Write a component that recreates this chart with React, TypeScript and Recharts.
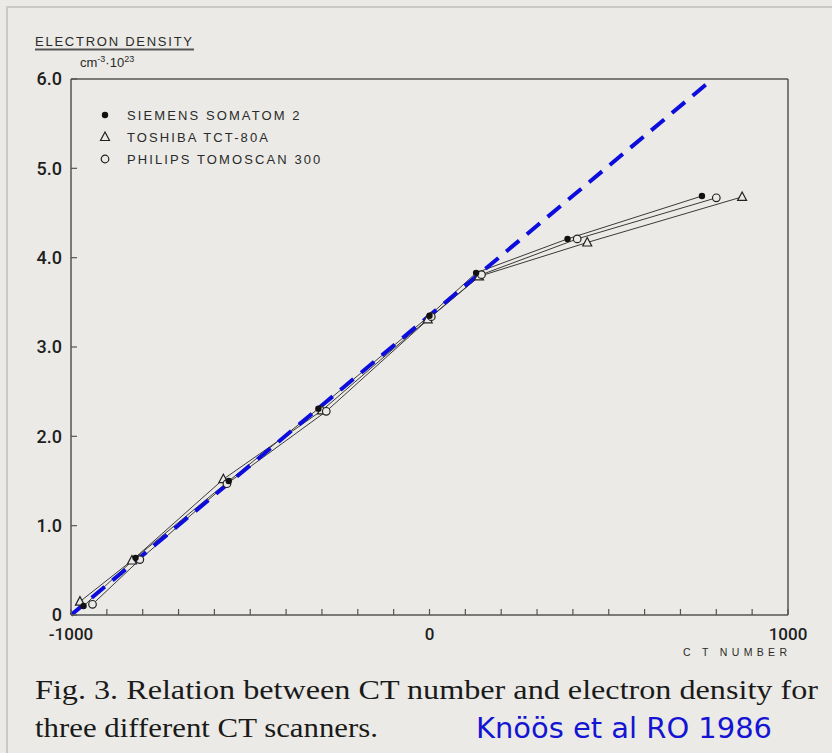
import { Legend, Line, LineChart, XAxis, YAxis } from "recharts";

const X_TICKS = [-1000, -900, -800, -700, -600, -500, -400, -300, -200, -100, 0, 100, 200, 300, 400, 500, 600, 700, 800, 900, 1000];
const X_LABELS: Record<number, string> = { [-1000]: "-1000", 0: "0", 1000: "1000" };
const Y_TICKS = [0, 1, 2, 3, 4, 5, 6];
const Y_LABELS = ["0", "1.0", "2.0", "3.0", "4.0", "5.0", "6.0"];

// points (CT number, electron density)
const siemens = [
  { x: -965, y: 0.1 },
  { x: -820, y: 0.64 },
  { x: -560, y: 1.5 },
  { x: -310, y: 2.31 },
  { x: 0, y: 3.35 },
  { x: 130, y: 3.83 },
  { x: 385, y: 4.21 },
  { x: 760, y: 4.69 },
];
const toshiba = [
  { x: -975, y: 0.15 },
  { x: -830, y: 0.61 },
  { x: -575, y: 1.52 },
  { x: -300, y: 2.29 },
  { x: -5, y: 3.31 },
  { x: 138, y: 3.79 },
  { x: 440, y: 4.17 },
  { x: 872, y: 4.68 },
];
const philips = [
  { x: -940, y: 0.12 },
  { x: -808, y: 0.62 },
  { x: -565, y: 1.47 },
  { x: -288, y: 2.28 },
  { x: 5, y: 3.34 },
  { x: 145, y: 3.81 },
  { x: 412, y: 4.21 },
  { x: 800, y: 4.67 },
];
const fitLine = [
  { x: -1000, y: 0 },
  { x: 778, y: 5.96 },
];

const LEGEND = [
  { name: "SIEMENS SOMATOM 2", shape: "dot" },
  { name: "TOSHIBA TCT-80A", shape: "tri" },
  { name: "PHILIPS TOMOSCAN 300", shape: "circle" },
];

const INK = "#2a2a2a";
const BG = "#ebeae6";

function Marker({ cx, cy, shape }: { cx: number; cy: number; shape: string }) {
  if (cx == null || cy == null) return null;
  if (shape === "dot") return <circle cx={cx} cy={cy} r={3.2} fill="#111" />;
  if (shape === "tri")
    return (
      <polygon
        points={`${cx},${cy - 5} ${cx - 4.5},${cy + 3.5} ${cx + 4.5},${cy + 3.5}`}
        fill={BG}
        stroke="#222"
        strokeWidth={1.2}
      />
    );
  return <circle cx={cx} cy={cy} r={3.8} fill={BG} stroke="#222" strokeWidth={1.2} />;
}

function LegendBox() {
  return (
    <div style={{ fontFamily: "Liberation Sans", fontSize: 13, color: INK, letterSpacing: 2.1 }}>
      {LEGEND.map((it) => (
        <div key={it.name} style={{ display: "flex", alignItems: "center", height: 22 }}>
          <svg width={14} height={14} style={{ marginRight: 15 }}>
            <Marker cx={7} cy={7} shape={it.shape} />
          </svg>
          <span>{it.name}</span>
        </div>
      ))}
    </div>
  );
}

const yTickFont = { fontFamily: "Roboto", fontSize: 18, fontWeight: 500, fill: "#1e1e1e" };
const xTickFont = { fontFamily: "Roboto", fontSize: 17, fontWeight: 500, fill: "#1e1e1e" };
const axisStyle = { stroke: "#555", strokeWidth: 1.5 };
const tickStyle = { stroke: "#555", strokeWidth: 1.2 };

export default function App() {
  return (
    <div style={{ position: "absolute", left: 0, top: 0, width: 832, height: 753, background: BG, overflow: "hidden" }}>
      <div style={{ position: "absolute", left: 6, top: 6, right: 0, bottom: 0, borderLeft: "2px solid #c9c9c7", borderTop: "2px solid #c9c9c7" }} />
      <LineChart width={832} height={753} margin={{ top: 78, right: 43, bottom: 137, left: 70 }}>
        <XAxis
          type="number"
          dataKey="x"
          domain={[-1000, 1000]}
          ticks={X_TICKS}
          height={1}
          tickSize={-6}
          tickMargin={19}
          interval={0}
          tickFormatter={(v: number) => X_LABELS[v] ?? ""}
          tick={xTickFont}
          axisLine={axisStyle}
          tickLine={tickStyle}
        />
        <XAxis
          xAxisId="top"
          orientation="top"
          type="number"
          dataKey="x"
          domain={[-1000, 1000]}
          ticks={X_TICKS}
          height={1}
          tickSize={-6}
          interval={0}
          tickFormatter={() => ""}
          axisLine={axisStyle}
          tickLine={tickStyle}
        />
        <YAxis
          type="number"
          domain={[0, 6]}
          ticks={Y_TICKS}
          width={1}
          tickSize={-6}
          tickMargin={15}
          interval={0}
          tickFormatter={(v: number) => Y_LABELS[v] ?? ""}
          tick={yTickFont}
          axisLine={axisStyle}
          tickLine={tickStyle}
        />
        <YAxis
          yAxisId="right"
          orientation="right"
          type="number"
          domain={[0, 6]}
          ticks={Y_TICKS}
          width={1}
          tickSize={-7}
          interval={0}
          tickFormatter={() => ""}
          axisLine={axisStyle}
          tickLine={tickStyle}
        />
        <Legend
          layout="horizontal"
          verticalAlign="middle"
          align="center"
          wrapperStyle={{ position: "absolute", left: 98, top: 104, width: "auto" }}
          content={() => <LegendBox />}
        />
        <Line
          data={toshiba}
          dataKey="y"
          name="TOSHIBA TCT-80A"
          stroke="#3a3a3a"
          strokeWidth={1}
          dot={(p: any) => <Marker key={p.index} cx={p.cx} cy={p.cy} shape="tri" />}
          isAnimationActive={false}
        />
        <Line
          data={philips}
          dataKey="y"
          name="PHILIPS TOMOSCAN 300"
          stroke="#3a3a3a"
          strokeWidth={1}
          dot={(p: any) => <Marker key={p.index} cx={p.cx} cy={p.cy} shape="circle" />}
          isAnimationActive={false}
        />
        <Line
          data={siemens}
          dataKey="y"
          name="SIEMENS SOMATOM 2"
          stroke="#3a3a3a"
          strokeWidth={1}
          dot={(p: any) => <Marker key={p.index} cx={p.cx} cy={p.cy} shape="dot" />}
          isAnimationActive={false}
        />
        <Line
          data={fitLine}
          dataKey="y"
          stroke="#0c0cdc"
          strokeWidth={4}
          strokeDasharray="17 10"
          dot={false}
          legendType="none"
          isAnimationActive={false}
        />
      </LineChart>
      <svg width={832} height={753} style={{ position: "absolute", left: 0, top: 0, pointerEvents: "none" }}>
        <text x={35} y={46} fontFamily="Liberation Sans" fontSize={13} fill={INK} textLength={157} lengthAdjust="spacing">
          ELECTRON DENSITY
        </text>
        <line x1={35} x2={194} y1={49.5} y2={49.5} stroke="#555" strokeWidth={2} />
        <text x={80} y={67} fontFamily="Liberation Sans" fontSize={13} fill={INK}>
          cm
          <tspan dy={-5} fontSize={9}>-3</tspan>
          <tspan dy={5}>·10</tspan>
          <tspan dy={-5} fontSize={9}>23</tspan>
        </text>
        <text x={683} y={656} fontFamily="Liberation Sans" fontSize={10.5} fill={INK} textLength={104} lengthAdjust="spacing">
          C T  NUMBER
        </text>
        <text x={35} y={699} fontFamily="Liberation Serif" fontSize={28} fill="#1a1a1a" textLength={783} lengthAdjust="spacingAndGlyphs">
          Fig. 3. Relation between CT number and electron density for
        </text>
        <text x={35} y={737} fontFamily="Liberation Serif" fontSize={28} fill="#1a1a1a" textLength={343} lengthAdjust="spacingAndGlyphs">
          three different CT scanners.
        </text>
        <text x={476} y={738} fontFamily="DejaVu Sans" fontSize={28} fill="#1414d2" textLength={296} lengthAdjust="spacingAndGlyphs">
          Knöös et al RO 1986
        </text>
      </svg>
    </div>
  );
}
